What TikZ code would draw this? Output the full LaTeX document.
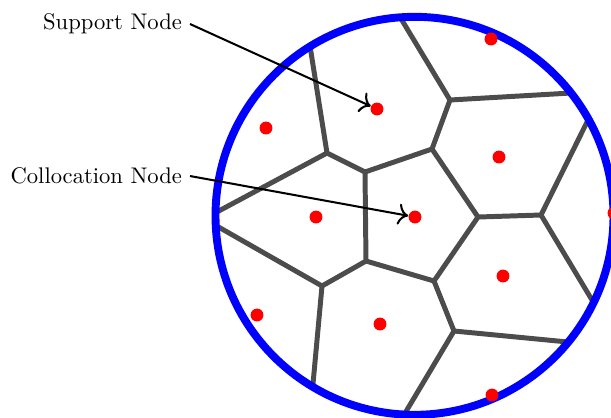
\documentclass[tikz,border=0pt]{standalone}
\usetikzlibrary{arrows.meta}
\begin{document}
\begin{tikzpicture}[x=0.4425pt,y=-0.4425pt,
  edge/.style={draw=black!70,line width=2.2pt,line join=round,line cap=round},
  bound/.style={draw=blue,line width=3.5pt},
  pt/.style={circle,fill=red,inner sep=0pt,minimum size=5.7pt},
  lbl/.style={anchor=east,font=\normalsize},
  pointer/.style={-{Computer Modern Rightarrow[scale=1.25]},line width=0.9pt}]
\useasboundingbox (0,0) rectangle (611,417);
% Voronoi vertices
\coordinate (A) at (450,100);
\coordinate (B) at (432,149);
\coordinate (C) at (327,153);
\coordinate (D) at (365,172);
\coordinate (E) at (478,217);
\coordinate (G) at (541,215);
\coordinate (F) at (366,261);
\coordinate (H) at (434,281);
\coordinate (I) at (322,286);
\coordinate (J) at (454,331);
% boundary ends
\coordinate (t1) at (400,17);
\coordinate (t2) at (310,46);
\coordinate (r1) at (571,93);
\coordinate (r2) at (589,118);
\coordinate (r3) at (593.5,302.5);
\coordinate (r4) at (568,342);
\coordinate (b1) at (404.5,414);
\coordinate (b2) at (312.8,386);
\coordinate (l1) at (215,213);
\coordinate (l2) at (215,225);
% edges
\draw[edge] (t1) -- (A) -- (r1);
\draw[edge] (A) -- (B) -- (E) -- (G) -- (r2);
\draw[edge] (G) -- (r3);
\draw[edge] (t2) -- (C) -- (D) -- (B);
\draw[edge] (C) -- (l1);
\draw[edge] (D) -- (F) -- (H) -- (E);
\draw[edge] (F) -- (I) -- (l2);
\draw[edge] (I) -- (b2);
\draw[edge] (H) -- (J) -- (r4);
\draw[edge] (J) -- (b1);
% boundary
\coordinate (O) at (414.5,215.8);
\draw[bound] (O) circle[radius=199];
% nodes
\node[pt] (p1) at (491,39) {};
\node[pt] (sup) at (377,109) {};
\node[pt] (p3) at (266,128) {};
\node[pt] (p4) at (499,157) {};
\node[pt] (p5) at (316,217) {};
\node[pt] (col) at (415,217) {};
\node[pt] (p7) at (614,213) {};
\node[pt] (p8) at (503,276) {};
\node[pt] (p9) at (257,315) {};
\node[pt] (p10) at (380,324) {};
\node[pt] (p11) at (492,395) {};
% labels
\node[lbl] (ls) at (190,24) {Support Node};
\node[lbl] (lc) at (190,176) {Collocation Node};
\draw[pointer] (ls.east) -- (sup);
\draw[pointer] (lc.east) -- (col);
\end{tikzpicture}
\end{document}
